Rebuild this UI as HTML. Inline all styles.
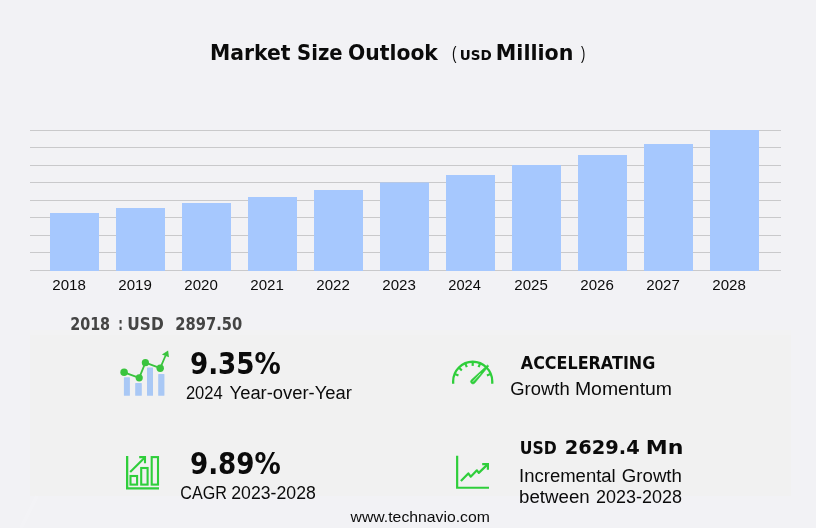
<!DOCTYPE html>
<html><head><meta charset="utf-8"><title>Market Size Outlook</title>
<style>
html,body{margin:0;padding:0;background:#f2f2f5;}
body{width:816px;height:528px;overflow:hidden;}
svg{display:block;font-family:"Liberation Sans","DejaVu Sans",sans-serif;}
.b{font-weight:bold;font-family:"DejaVu Sans","Liberation Sans",sans-serif}
</style></head><body>
<svg width="816" height="528" viewBox="0 0 816 528">
<rect width="816" height="528" fill="#f2f2f5"/>
<rect x="30" y="330" width="761" height="166" fill="#f2f2f3"/>
<rect x="30" y="335" width="761" height="161" fill="#f1f1f1"/>

<rect x="30" y="130" width="751" height="1" fill="#c9c9cb" shape-rendering="crispEdges"/>
<rect x="30" y="147" width="751" height="1" fill="#c9c9cb" shape-rendering="crispEdges"/>
<rect x="30" y="165" width="751" height="1" fill="#c9c9cb" shape-rendering="crispEdges"/>
<rect x="30" y="182" width="751" height="1" fill="#c9c9cb" shape-rendering="crispEdges"/>
<rect x="30" y="200" width="751" height="1" fill="#c9c9cb" shape-rendering="crispEdges"/>
<rect x="30" y="217" width="751" height="1" fill="#c9c9cb" shape-rendering="crispEdges"/>
<rect x="30" y="235" width="751" height="1" fill="#c9c9cb" shape-rendering="crispEdges"/>
<rect x="30" y="252" width="751" height="1" fill="#c9c9cb" shape-rendering="crispEdges"/>
<rect x="30" y="270" width="751" height="1" fill="#c9c9cb" shape-rendering="crispEdges"/>
<rect x="50" y="213" width="49" height="58" fill="#a6c8fe"/>
<rect x="116" y="208" width="49" height="63" fill="#a6c8fe"/>
<rect x="182" y="203" width="49" height="68" fill="#a6c8fe"/>
<rect x="248" y="197" width="49" height="74" fill="#a6c8fe"/>
<rect x="314" y="190" width="49" height="81" fill="#a6c8fe"/>
<rect x="380" y="182.5" width="49" height="88.5" fill="#a6c8fe"/>
<rect x="446" y="175" width="49" height="96" fill="#a6c8fe"/>
<rect x="512" y="165" width="49" height="106" fill="#a6c8fe"/>
<rect x="578" y="155" width="49" height="116" fill="#a6c8fe"/>
<rect x="644" y="144" width="49" height="127" fill="#a6c8fe"/>
<rect x="710" y="130" width="49" height="141" fill="#a6c8fe"/>
<text><tspan x="210.01" y="60" font-size="20.6" class="b" fill="#0b0b0b" textLength="80.53" lengthAdjust="spacingAndGlyphs">Market</tspan> <tspan x="297.05" y="60" font-size="20.6" class="b" fill="#0b0b0b" textLength="45.57" lengthAdjust="spacingAndGlyphs">Size</tspan> <tspan x="348.01" y="60" font-size="20.6" class="b" fill="#0b0b0b" textLength="89.90" lengthAdjust="spacingAndGlyphs">Outlook</tspan> <tspan x="452.00" y="59.3" font-size="19" fill="#0b0b0b" textLength="4.43" lengthAdjust="spacingAndGlyphs">(</tspan> <tspan x="459.84" y="60" font-size="14.1" class="b" fill="#0b0b0b" textLength="32.03" lengthAdjust="spacingAndGlyphs">USD</tspan> <tspan x="495.80" y="60" font-size="20.6" class="b" fill="#0b0b0b" textLength="77.66" lengthAdjust="spacingAndGlyphs">Million</tspan> <tspan x="580.90" y="59.3" font-size="19" fill="#0b0b0b" textLength="4.32" lengthAdjust="spacingAndGlyphs">)</tspan></text>
<text><tspan x="70.18" y="329.7" font-size="17.6" class="b" fill="#444" textLength="39.91" lengthAdjust="spacingAndGlyphs">2018</tspan> <tspan x="118.34" y="329.7" font-size="17.6" class="b" fill="#444" textLength="4.64" lengthAdjust="spacingAndGlyphs">:</tspan> <tspan x="127.32" y="329.7" font-size="17.6" class="b" fill="#444" textLength="36.41" lengthAdjust="spacingAndGlyphs">USD</tspan> <tspan x="175.37" y="329.7" font-size="17.6" class="b" fill="#444" textLength="66.84" lengthAdjust="spacingAndGlyphs">2897.50</tspan></text>
<text><tspan x="189.91" y="374.2" font-size="29.6" class="b" fill="#0b0b0b" textLength="90.96" lengthAdjust="spacingAndGlyphs">9.35%</tspan></text>
<text><tspan x="185.90" y="399.2" font-size="18" fill="#0b0b0b" textLength="36.81" lengthAdjust="spacingAndGlyphs">2024</tspan> <tspan x="229.60" y="399.2" font-size="18" fill="#0b0b0b" textLength="122.29" lengthAdjust="spacingAndGlyphs">Year-over-Year</tspan></text>
<text><tspan x="520.80" y="369.3" font-size="17.6" class="b" fill="#0b0b0b" textLength="134.50" lengthAdjust="spacingAndGlyphs">ACCELERATING</tspan></text>
<text><tspan x="510.30" y="395" font-size="18" fill="#0b0b0b" textLength="59.33" lengthAdjust="spacingAndGlyphs">Growth</tspan> <tspan x="574.92" y="395" font-size="18" fill="#0b0b0b" textLength="97.15" lengthAdjust="spacingAndGlyphs">Momentum</tspan></text>
<text><tspan x="189.91" y="474.2" font-size="29.6" class="b" fill="#0b0b0b" textLength="90.96" lengthAdjust="spacingAndGlyphs">9.89%</tspan></text>
<text><tspan x="180.30" y="499.2" font-size="18" fill="#0b0b0b" textLength="46.60" lengthAdjust="spacingAndGlyphs">CAGR</tspan> <tspan x="231.30" y="499.2" font-size="18" fill="#0b0b0b" textLength="84.51" lengthAdjust="spacingAndGlyphs">2023-2028</tspan></text>
<text><tspan x="519.87" y="453.9" font-size="16.8" class="b" fill="#0b0b0b" textLength="36.97" lengthAdjust="spacingAndGlyphs">USD</tspan> <tspan x="564.70" y="453.9" font-size="19.4" class="b" fill="#0b0b0b" textLength="75.00" lengthAdjust="spacingAndGlyphs">2629.4</tspan> <tspan x="645.86" y="453.9" font-size="19.4" class="b" fill="#0b0b0b" textLength="37.65" lengthAdjust="spacingAndGlyphs">Mn</tspan></text>
<text><tspan x="519.07" y="481.9" font-size="18" fill="#0b0b0b" textLength="96.65" lengthAdjust="spacingAndGlyphs">Incremental</tspan> <tspan x="621.80" y="481.9" font-size="18" fill="#0b0b0b" textLength="60.15" lengthAdjust="spacingAndGlyphs">Growth</tspan></text>
<text><tspan x="519.06" y="503.4" font-size="18" fill="#0b0b0b" textLength="70.69" lengthAdjust="spacingAndGlyphs">between</tspan> <tspan x="596.10" y="503.4" font-size="18" fill="#0b0b0b" textLength="85.81" lengthAdjust="spacingAndGlyphs">2023-2028</tspan></text>
<text><tspan x="350.59" y="521.8" font-size="14.5" fill="#0b0b0b" textLength="139.30" lengthAdjust="spacingAndGlyphs">www.technavio.com</tspan></text>
<text><tspan x="52.30" y="290" font-size="15.4" fill="#0b0b0b" textLength="33.55" lengthAdjust="spacingAndGlyphs">2018</tspan></text>
<text><tspan x="118.30" y="290" font-size="15.4" fill="#0b0b0b" textLength="33.55" lengthAdjust="spacingAndGlyphs">2019</tspan></text>
<text><tspan x="184.30" y="290" font-size="15.4" fill="#0b0b0b" textLength="33.55" lengthAdjust="spacingAndGlyphs">2020</tspan></text>
<text><tspan x="250.30" y="290" font-size="15.4" fill="#0b0b0b" textLength="33.55" lengthAdjust="spacingAndGlyphs">2021</tspan></text>
<text><tspan x="316.30" y="290" font-size="15.4" fill="#0b0b0b" textLength="33.55" lengthAdjust="spacingAndGlyphs">2022</tspan></text>
<text><tspan x="382.30" y="290" font-size="15.4" fill="#0b0b0b" textLength="33.55" lengthAdjust="spacingAndGlyphs">2023</tspan></text>
<text><tspan x="448.30" y="290" font-size="15.4" fill="#0b0b0b" textLength="32.58" lengthAdjust="spacingAndGlyphs">2024</tspan></text>
<text><tspan x="514.30" y="290" font-size="15.4" fill="#0b0b0b" textLength="33.55" lengthAdjust="spacingAndGlyphs">2025</tspan></text>
<text><tspan x="580.30" y="290" font-size="15.4" fill="#0b0b0b" textLength="33.55" lengthAdjust="spacingAndGlyphs">2026</tspan></text>
<text><tspan x="646.30" y="290" font-size="15.4" fill="#0b0b0b" textLength="33.55" lengthAdjust="spacingAndGlyphs">2027</tspan></text>
<text><tspan x="712.30" y="290" font-size="15.4" fill="#0b0b0b" textLength="33.55" lengthAdjust="spacingAndGlyphs">2028</tspan></text>

<line x1="37" y1="496" x2="21" y2="528" stroke="#ffffff" stroke-opacity="0.13" stroke-width="4"/>
<g fill="#a9c8f5">
<rect x="123.9" y="377.2" width="6" height="18.6" rx="0.6"/>
<rect x="135.2" y="383" width="6.6" height="12.8" rx="0.6"/>
<rect x="147" y="367.4" width="6" height="28.4" rx="0.6"/>
<rect x="158.2" y="374" width="6.2" height="21.8" rx="0.6"/>
</g>
<g fill="#3ac43e" stroke="#3ac43e">
<polyline points="124.1,372.3 139.2,377.8 145.4,362.7 160.2,368.2 165.6,355.5" fill="none" stroke-width="1.8" stroke-linejoin="round"/>
<circle cx="124.1" cy="372.3" r="3.75" stroke="none"/>
<circle cx="139.2" cy="377.8" r="3.6" stroke="none"/>
<circle cx="145.4" cy="362.7" r="3.6" stroke="none"/>
<circle cx="160.2" cy="368.2" r="3.7" stroke="none"/>
<polygon points="168.1,350.4 169,357.2 161.9,354.6" stroke="none"/>
</g>


<g fill="none" stroke="#2fce3b" stroke-width="2.3" stroke-linecap="butt">
<path d="M453.15,383.8 V381.3 A19.55,19.55 0 0 1 492.25,381.3 V383.8"/>
<g stroke-width="2.2">
<line x1="458.47" y1="375.41" x2="454.96" y2="373.95"/>
<line x1="461.81" y1="370.41" x2="459.12" y2="367.72"/>
<line x1="466.81" y1="367.07" x2="465.35" y2="363.56"/>
<line x1="472.70" y1="365.90" x2="472.70" y2="362.10"/>
<line x1="478.59" y1="367.07" x2="480.05" y2="363.56"/>
<line x1="486.93" y1="375.41" x2="490.44" y2="373.95"/>
</g>
<path d="M488.78,366.05 L474.64,383.25 A2.4,2.4 0 0 1 471.16,379.95 L487.62,364.95 Z" fill="#2fce3b" stroke-width="0.6" stroke-linejoin="round"/>
<line x1="473.1" y1="381.4" x2="480.3" y2="373.8" stroke="#d4f2d6" stroke-width="0.9" stroke-linecap="round"/>
</g>


<g fill="none" stroke="#2fce3b" stroke-width="2.1" stroke-linecap="butt" stroke-linejoin="miter">
<polyline points="127.15,456.1 127.15,488.35 159,488.35" stroke-width="2.3"/>
<rect x="130.5" y="476" width="6.6" height="8.6"/>
<rect x="141.2" y="468" width="6.4" height="16.6"/>
<rect x="151.7" y="457.1" width="6.3" height="27.5"/>
<polyline points="130.2,471.9 144.8,457.5"/>
<polyline points="139.2,457.15 145,457.15 145,463.2"/>
</g>


<g fill="none" stroke="#2fce3b" stroke-width="2.2" stroke-linecap="butt" stroke-linejoin="miter">
<polyline points="457.15,455.8 457.15,487.75 489,487.75"/>
<polyline points="460.9,481.1 468.3,473.4 470.7,476.7 476.9,470.3 478.8,472.9 487.6,464.4" stroke-linejoin="round"/>
<polyline points="482.2,464.1 487.9,464.1 487.9,469.8"/>
</g>

</svg></body></html>
